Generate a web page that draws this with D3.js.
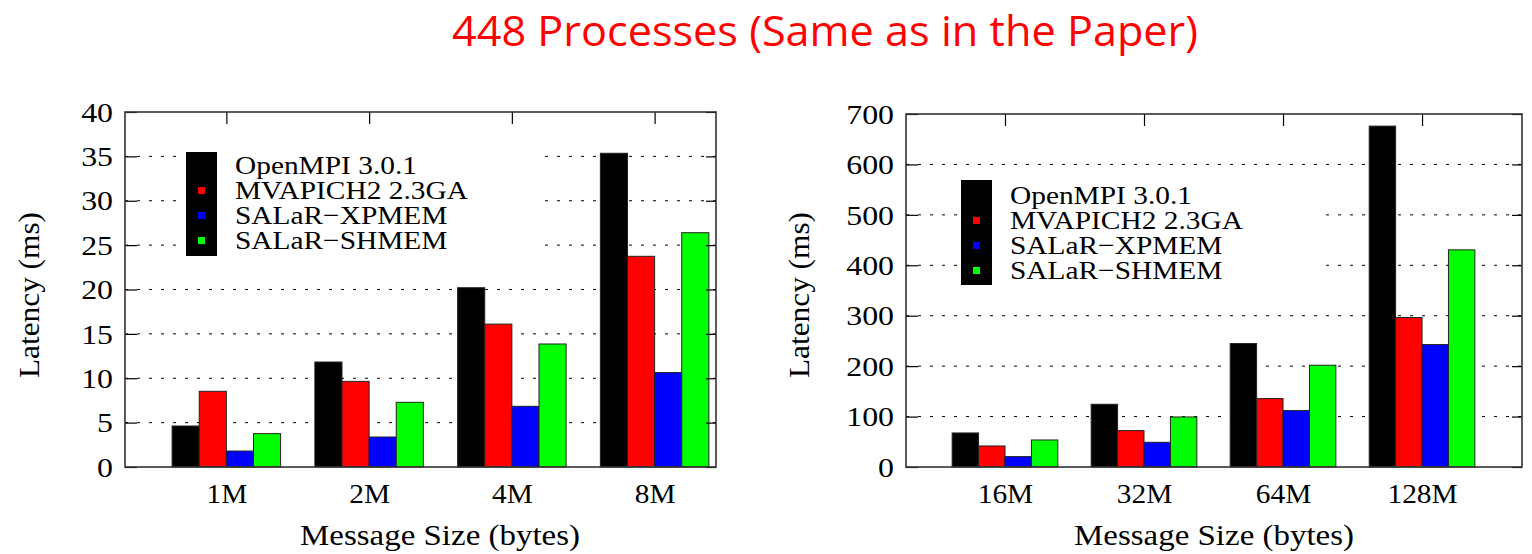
<!DOCTYPE html>
<html>
<head>
<meta charset="utf-8">
<script src="https://cdn.jsdelivr.net/npm/d3@7"></script>
<style>
  body { margin: 0; background: #fff; }
  svg { display: block; }
  .serif { font-family: "Liberation Serif", "Times New Roman", serif; fill: #000; }
</style>
</head>
<body>
<svg id="chart" width="1532" height="554"></svg>
<script>
// series shared by both panels
const seriesNames = ["OpenMPI 3.0.1", "MVAPICH2 2.3GA", "SALaR\u2212XPMEM", "SALaR\u2212SHMEM"];
const seriesColors = ["#000000", "#ff0000", "#0000ff", "#00ff00"];

// left panel: 1M..8M
const sizesLeft = ["1M", "2M", "4M", "8M"];
const openmpiLeft = [4.62, 11.83, 20.2, 35.35];
const mvapichLeft = [8.53, 9.65, 16.1, 23.74];
const xpmemLeft = [1.8, 3.38, 6.84, 10.64];
const shmemLeft = [3.76, 7.29, 13.86, 26.4];
const yTicksLeft = [0, 5, 10, 15, 20, 25, 30, 35, 40];

// right panel: 16M..128M
const sizesRight = ["16M", "32M", "64M", "128M"];
const openmpiRight = [67.5, 124.4, 244.8, 676];
const mvapichRight = [41.7, 72.2, 135.7, 296.4];
const xpmemRight = [20.6, 49, 111.9, 242.8];
const shmemRight = [53.6, 99.2, 201.8, 430.6];
const yTicksRight = [0, 100, 200, 300, 400, 500, 600, 700];

const svg = d3.select("#chart");
const barW = 0.19;

svg.append("text")
    .attr("x", 825).attr("y", 46)
    .attr("text-anchor", "middle")
    .attr("textLength", 746).attr("lengthAdjust", "spacingAndGlyphs")
    .style("font-family", "'Open Sans', sans-serif")
    .style("font-size", "42px")
    .style("fill", "#ff0000")
    .text("448 Processes (Same as in the Paper)");

function drawPanel(p) {
    const g = svg.append("g");
    const x = d3.scaleLinear().domain(p.xDomain).range([p.left, p.right]);
    const y = d3.scaleLinear().domain([0, p.yMax]).range([p.bottom, p.top]);

    // dotted grid
    g.append("g").selectAll("line")
        .data(p.yTicks.filter(t => t > 0 && t < p.yMax))
        .join("line")
        .attr("x1", p.left).attr("x2", p.right)
        .attr("y1", d => y(d)).attr("y2", d => y(d))
        .attr("stroke", "#000").attr("stroke-width", 1)
        .attr("stroke-dasharray", "3,9");

    // key background hides the grid
    g.append("rect")
        .attr("x", p.keyBg[0]).attr("y", p.keyBg[1])
        .attr("width", p.keyBg[2]).attr("height", p.keyBg[3])
        .attr("fill", "#fff");

    // bars
    const rows = p.sizes.map((s, i) => p.series.map((vals, k) => ({ i, k, v: vals[i] })));
    g.append("g").selectAll("rect")
        .data(rows.flat())
        .join("rect")
        .attr("x", d => x(d.i + (d.k - 2) * barW))
        .attr("width", d => x(d.i + (d.k - 1) * barW) - x(d.i + (d.k - 2) * barW))
        .attr("y", d => y(d.v))
        .attr("height", d => y(0) - y(d.v))
        .attr("fill", d => seriesColors[d.k])
        .attr("stroke", "#222").attr("stroke-width", 1);

    // y ticks left (inward) with labels
    const yAxis = g.append("g")
        .attr("transform", `translate(${p.left},0)`)
        .call(d3.axisLeft(y).tickValues(p.yTicks).tickSize(-12).tickPadding(0));
    yAxis.select(".domain").remove();
    yAxis.selectAll("line").attr("stroke", "#000").attr("stroke-width", 1.2);
    yAxis.selectAll("text")
        .attr("x", null)
        .attr("dy", "0.34em")
        .attr("transform", "translate(-12,0) scale(1.18,1)")
        .attr("class", "serif")
        .style("font-size", "27px");

    // mirror ticks on the right
    const yAxisR = g.append("g")
        .attr("transform", `translate(${p.right},0)`)
        .call(d3.axisRight(y).tickValues(p.yTicks).tickSize(-10).tickFormat(""));
    yAxisR.select(".domain").remove();
    yAxisR.selectAll("line").attr("stroke", "#000").attr("stroke-width", 1.2);

    // top ticks
    const xTop = g.append("g")
        .attr("transform", `translate(0,${p.top})`)
        .call(d3.axisTop(x).tickValues(d3.range(p.sizes.length)).tickSize(-12).tickFormat(""));
    xTop.select(".domain").remove();
    xTop.selectAll("line").attr("stroke", "#000").attr("stroke-width", 1.2);

    // bottom labels
    const xBot = g.append("g")
        .attr("transform", `translate(0,${p.bottom})`)
        .call(d3.axisBottom(x).tickValues(d3.range(p.sizes.length)).tickSize(0)
            .tickFormat(i => p.sizes[i]));
    xBot.select(".domain").remove();
    xBot.selectAll("text")
        .attr("y", null).attr("dy", null)
        .attr("transform", "translate(0,36) scale(1.05,1)")
        .attr("class", "serif")
        .style("font-size", "28px");

    // frame
    g.append("rect")
        .attr("x", p.left).attr("y", p.top)
        .attr("width", p.right - p.left).attr("height", p.bottom - p.top)
        .attr("fill", "none").attr("stroke", "#333").attr("stroke-width", 1.6);

    // key: black sample spans the whole block, small squares for the others
    const key = g.append("g");
    key.append("rect")
        .attr("x", p.keyX).attr("y", p.keyTop)
        .attr("width", 31).attr("height", p.keyH)
        .attr("fill", seriesColors[0]);
    key.selectAll("rect.sw")
        .data(seriesNames.slice(1))
        .join("rect")
        .attr("class", "sw")
        .attr("x", p.keyX + 12).attr("y", (d, i) => p.keyBase + (i + 1) * 25 - 12)
        .attr("width", 7).attr("height", 7)
        .attr("fill", (d, i) => seriesColors[i + 1]);
    key.selectAll("text")
        .data(seriesNames)
        .join("text")
        .attr("class", "serif")
        .attr("transform", (d, i) => `translate(${p.keyX + 49},${p.keyBase + i * 25}) scale(1.13,1)`)
        .style("font-size", "26px")
        .text(d => d);

    // axis titles
    svg.append("text")
        .attr("class", "serif")
        .attr("transform", `translate(${p.yLabelX},${p.yLabelY}) rotate(-90)`)
        .attr("text-anchor", "middle")
        .attr("textLength", 166).attr("lengthAdjust", "spacingAndGlyphs")
        .style("font-size", "29px")
        .text("Latency (ms)");
    svg.append("text")
        .attr("class", "serif")
        .attr("x", p.xLabelX).attr("y", 545)
        .attr("text-anchor", "middle")
        .attr("textLength", 280).attr("lengthAdjust", "spacingAndGlyphs")
        .style("font-size", "29px")
        .text("Message Size (bytes)");
}

drawPanel({
    sizes: sizesLeft,
    series: [openmpiLeft, mvapichLeft, xpmemLeft, shmemLeft],
    yTicks: yTicksLeft, yMax: 40,
    xDomain: [-0.71, 3.43],
    left: 125, right: 716, top: 112, bottom: 467,
    keyBg: [183, 148, 362, 114],
    keyX: 186, keyTop: 152, keyH: 104, keyBase: 174,
    yLabelX: 39, yLabelY: 295, xLabelX: 440
});

drawPanel({
    sizes: sizesRight,
    series: [openmpiRight, mvapichRight, xpmemRight, shmemRight],
    yTicks: yTicksRight, yMax: 700,
    xDomain: [-0.712, 3.719],
    left: 906, right: 1522, top: 114, bottom: 467,
    keyBg: [958, 176, 365, 114],
    keyX: 961, keyTop: 180, keyH: 105, keyBase: 204,
    yLabelX: 809, yLabelY: 295, xLabelX: 1214
});
</script>
</body>
</html>
